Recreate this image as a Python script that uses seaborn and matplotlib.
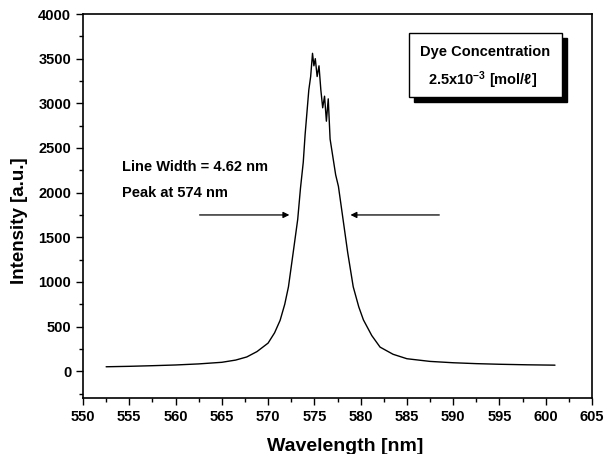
import numpy as np
import matplotlib
matplotlib.use("Agg")
import matplotlib.pyplot as plt
import seaborn as sns
from matplotlib.patches import Rectangle
from matplotlib.ticker import MultipleLocator

# emission spectrum
wavelength = [552.5, 555, 557.5, 560, 562.5, 565, 566.5, 567.7, 568.8, 570,
              570.7, 571.3, 571.8, 572.2, 572.7, 573.2, 573.5, 573.8, 574.0, 574.2,
              574.4, 574.6, 574.8, 574.95, 575.1, 575.3, 575.5, 575.7, 575.9, 576.1,
              576.3, 576.5, 576.7, 577.0, 577.3, 577.6, 578.1, 578.6, 579.2, 579.8,
              580.3, 581.2, 582.1, 583.5, 585, 587.5, 590, 592.5, 595, 598, 601]
intensity = [50, 55, 62, 70, 82, 100, 125, 160, 220, 315,
             430, 570, 750, 945, 1320, 1700, 2050, 2340, 2650, 2900,
             3150, 3300, 3560, 3420, 3500, 3300, 3420, 3150, 2950, 3080,
             2800, 3050, 2600, 2400, 2200, 2070, 1700, 1330, 945, 720,
             575, 400, 270, 190, 140, 110, 95, 85, 78, 72, 68]

x_ticks = [550, 555, 560, 565, 570, 575, 580, 585, 590, 595, 600, 605]
y_ticks = [0, 500, 1000, 1500, 2000, 2500, 3000, 3500, 4000]

sns.set_style("ticks")
plt.rcParams["font.family"] = ["Liberation Sans", "DejaVu Sans"]
plt.rcParams["font.weight"] = "bold"
plt.rcParams["text.color"] = "black"
plt.rcParams["axes.labelcolor"] = "black"
plt.rcParams["xtick.color"] = "black"
plt.rcParams["ytick.color"] = "black"
plt.rcParams["mathtext.fontset"] = "custom"
plt.rcParams["mathtext.rm"] = "Liberation Sans:bold"
plt.rcParams["mathtext.bf"] = "Liberation Sans:bold"
plt.rcParams["mathtext.it"] = "Liberation Sans:italic:bold"

fig = plt.figure(figsize=(6.08, 4.54), dpi=100)
ax = fig.add_axes([0.1365, 0.1233, 0.8372, 0.8458])

sns.lineplot(x=wavelength, y=intensity, color="black", linewidth=1.0, ax=ax)

ax.set_xlim(550, 605)
ax.set_ylim(-300, 4000)
ax.set_xticks(x_ticks)
ax.set_yticks(y_ticks)
ax.xaxis.set_minor_locator(MultipleLocator(2.5))
ax.yaxis.set_minor_locator(MultipleLocator(250))
ax.tick_params(which="major", direction="out", length=5, width=1, labelsize=10.5)
ax.tick_params(which="minor", direction="out", length=3, width=1)
for lab in ax.get_xticklabels() + ax.get_yticklabels():
    lab.set_fontweight("bold")
for sp in ax.spines.values():
    sp.set_linewidth(1.2)
    sp.set_color("black")

ax.set_xlabel("Wavelength [nm]", fontsize=14, fontweight="bold")
ax.set_ylabel("Intensity [a.u.]", fontsize=13.5, fontweight="bold")
ax.xaxis.set_label_coords(0.515, -0.103)
ax.yaxis.set_label_coords(-0.108, 0.461)

ax.text(554.2, 2290, "Line Width = 4.62 nm", fontsize=10.5, fontweight="bold", va="center")
ax.text(554.2, 2000, "Peak at 574 nm", fontsize=10.5, fontweight="bold", va="center")

arrow = dict(arrowstyle="-|>", color="black", lw=0.9, mutation_scale=9)
ax.annotate("", xy=(572.6, 1750), xytext=(562.3, 1750), arrowprops=arrow)
ax.annotate("", xy=(578.6, 1750), xytext=(588.8, 1750), arrowprops=arrow)

# concentration box with drop shadow
ax.add_patch(Rectangle((0.650, 0.771), 0.301, 0.167, transform=ax.transAxes,
                       facecolor="black", edgecolor="black", zorder=5))
ax.add_patch(Rectangle((0.640, 0.784), 0.301, 0.167, transform=ax.transAxes,
                       facecolor="white", edgecolor="black", lw=1, zorder=6))
ax.text(0.790, 0.901, "Dye Concentration", transform=ax.transAxes, ha="center",
        va="center", fontsize=10.5, fontweight="bold", zorder=7)
ax.text(0.785, 0.828, "2.5x10$^{-3}$ [mol/\u2113]", transform=ax.transAxes,
        ha="center", va="center", fontsize=10.5, fontweight="bold", zorder=7)

fig.savefig("out.png", dpi=100)
